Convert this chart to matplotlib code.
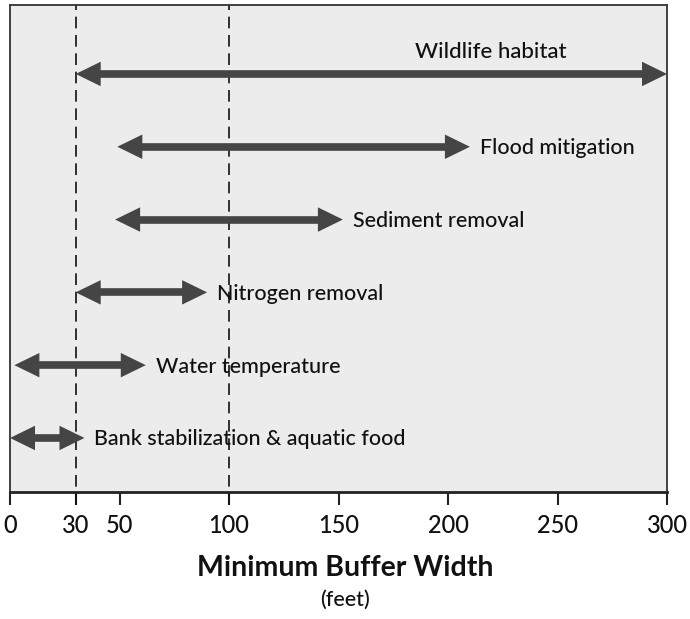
import matplotlib
matplotlib.use('Agg')
import matplotlib.pyplot as plt
from matplotlib.patches import FancyArrowPatch

# buffer functions, bottom to top
functions = ['Bank stabilization & aquatic food', 'Water temperature',
             'Nitrogen removal', 'Sediment removal', 'Flood mitigation',
             'Wildlife habitat']
start_ft = [0, 2, 30, 48, 49, 30]
end_ft = [34, 62, 90, 152, 210, 300]
ticks = [0, 30, 50, 100, 150, 200, 250, 300]
guides = [30, 100]

plt.rcParams['font.family'] = ['Lato', 'DejaVu Sans']

fig = plt.figure(figsize=(6.9, 6.19), dpi=100)
ax = fig.add_axes([0.0145, 0.2052, 0.9522, 0.7868])
ax.set_facecolor('#ececec')
ax.set_xlim(0, 300)
ax.set_ylim(-0.742, 5.948)

arrow_col = '#454545'
txt_col = '#111111'
for i, (name, a, b) in enumerate(zip(functions, start_ft, end_ft)):
    # shaft
    ax.plot([a + 4, b - 4], [i, i], color=arrow_col, lw=5.5,
            solid_capstyle='butt', clip_on=False, zorder=3)
    # heads (filled, no outline)
    arr = FancyArrowPatch((a, i), (b, i),
                          arrowstyle='<|-|>,head_length=0.9,head_width=0.44',
                          mutation_scale=20, lw=0, facecolor=arrow_col,
                          edgecolor='none', shrinkA=0, shrinkB=0,
                          clip_on=False, zorder=3)
    ax.add_patch(arr)
    if name == 'Wildlife habitat':
        ax.text(185, i + 0.3, name, fontsize=16, color=txt_col,
                fontweight='medium', va='center', ha='left', zorder=4)
    else:
        ax.annotate(name, (b, i), xytext=(7, -1), textcoords='offset points',
                    fontsize=15.5, color=txt_col, fontweight='medium',
                    va='center', ha='left', zorder=4)

for g in guides:
    ax.axvline(g, ymin=-0.027, ymax=1, color='#111111', lw=1.2,
               dashes=(7, 4), clip_on=False, zorder=2)

ax.set_yticks([])
ax.set_xticks(ticks)
ax.set_xticklabels([str(t) for t in ticks], fontsize=17, color=txt_col,
                   fontweight='medium')
ax.tick_params(axis='x', direction='out', length=9, width=1.5, pad=7,
               color='#222222')
for s in ['left', 'right', 'top']:
    ax.spines[s].set_linewidth(1.3)
    ax.spines[s].set_color('#333333')
ax.spines['bottom'].set_linewidth(2)
ax.spines['bottom'].set_color('#222222')

fig.text(0.5, 0.083, 'Minimum Buffer Width', ha='center', va='center',
         fontsize=20.5, fontweight='bold', color=txt_col)
fig.text(0.5, 0.031, '(feet)', ha='center', va='center',
         fontsize=15.5, color=txt_col, fontweight='medium')

fig.savefig('out.png', dpi=100, facecolor='white')
plt.close(fig)
